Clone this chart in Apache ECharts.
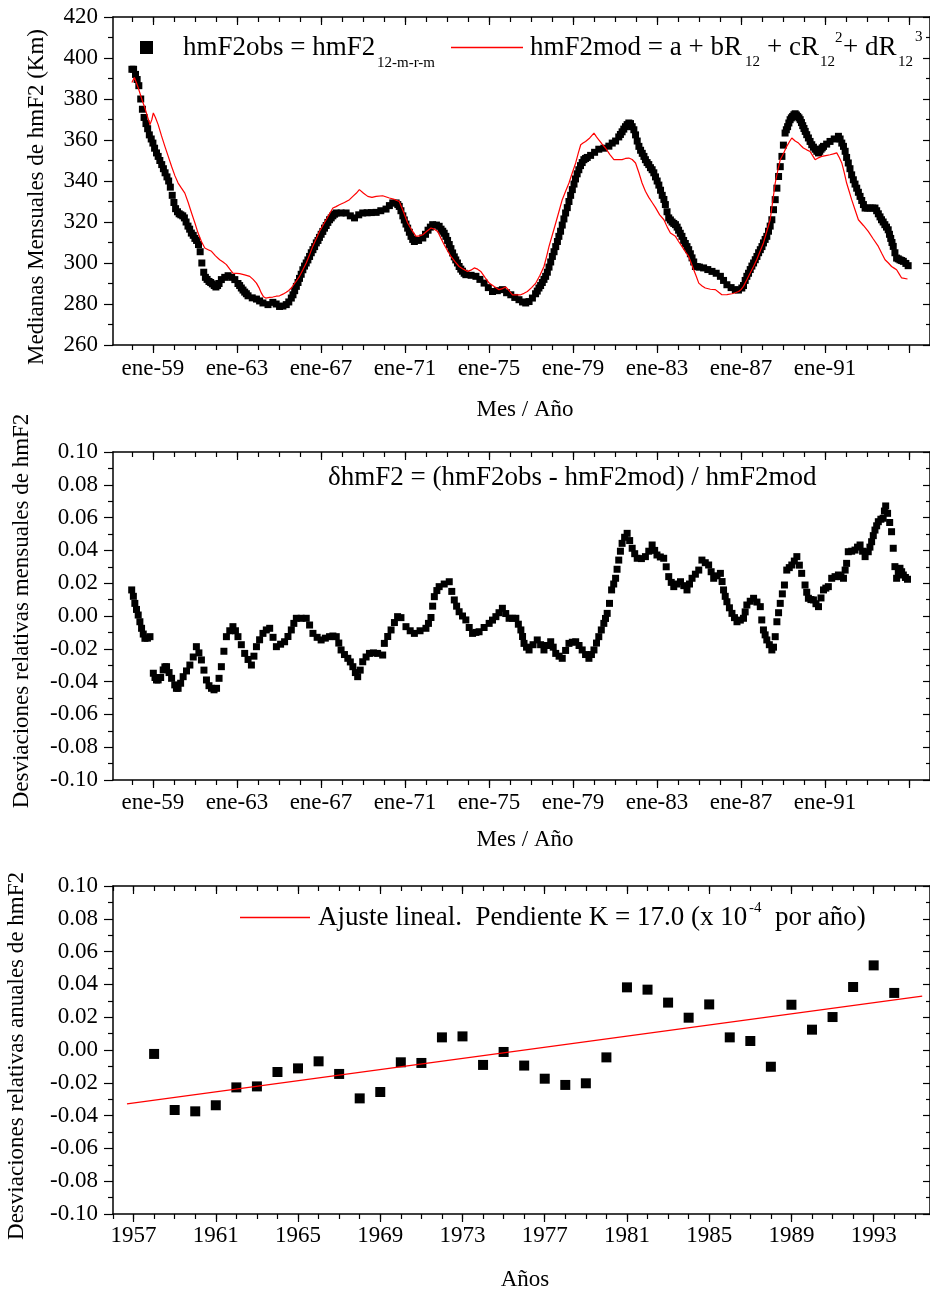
<!DOCTYPE html>
<html><head><meta charset="utf-8">
<script src="https://cdn.jsdelivr.net/npm/echarts@6/dist/echarts.min.js"></script>
<style>html,body{margin:0;padding:0;background:#fff}#c{width:930px;height:1295px}</style>
</head><body><div id="c"></div>
<script>
// ---- Panel 1: monthly medians of hmF2 (Km) [decimal year, value]
const obsHmF2 = [[1958.00,394.5],[1958.08,394.5],[1958.17,392],[1958.25,389.5],[1958.33,386.5],[1958.42,380],[1958.50,375],[1958.58,371],[1958.67,368],[1958.75,365.5],[1958.83,362.5],[1958.92,360.5],[1959.00,358.5],[1959.08,356],[1959.17,353.7],[1959.25,352],[1959.33,350],[1959.42,348],[1959.50,346],[1959.58,344],[1959.67,342],[1959.75,340],[1959.83,337],[1959.92,333],[1960.00,329.5],[1960.08,326.5],[1960.17,325],[1960.25,324],[1960.33,323.5],[1960.42,323],[1960.50,322],[1960.58,320],[1960.67,318],[1960.75,316.5],[1960.83,314.6],[1960.92,313.5],[1961.00,312],[1961.08,311],[1961.17,309],[1961.25,305.5],[1961.33,300],[1961.42,295.5],[1961.50,293],[1961.58,292],[1961.67,291],[1961.75,290.5],[1961.83,289.8],[1961.92,289],[1962.00,288.3],[1962.08,289],[1962.15,290],[1962.26,291.9],[1962.42,293],[1962.58,293.8],[1962.75,293],[1962.90,291.9],[1963.05,290],[1963.13,289],[1963.21,287.8],[1963.29,286.8],[1963.37,285.8],[1963.45,285],[1963.53,284],[1963.73,283],[1963.93,282.4],[1964.08,281.5],[1964.24,280.5],[1964.48,279.7],[1964.71,280.8],[1964.87,280],[1965.03,278.8],[1965.19,279],[1965.35,279.7],[1965.47,281],[1965.59,282.9],[1965.67,284.5],[1965.75,286.5],[1965.83,288.6],[1965.91,290.5],[1965.98,292.5],[1966.06,294.5],[1966.14,296.7],[1966.22,298.5],[1966.30,300],[1966.38,301.5],[1966.46,303.2],[1966.54,305],[1966.62,306.5],[1966.70,308],[1966.78,309.8],[1966.86,311],[1966.93,312.5],[1967.01,314],[1967.09,315.4],[1967.17,317],[1967.25,318.3],[1967.33,319.8],[1967.41,321.1],[1967.49,322],[1967.57,323],[1967.65,323.8],[1967.73,324.4],[1967.96,324.4],[1968.20,324.4],[1968.40,323],[1968.60,322],[1968.80,323.5],[1968.99,324.4],[1969.20,324.5],[1969.40,324.6],[1969.63,324.7],[1969.85,325.5],[1970.10,326.3],[1970.26,328],[1970.42,329.3],[1970.58,329.3],[1970.66,328.5],[1970.73,327.6],[1970.81,325.5],[1970.90,323],[1970.97,321],[1971.05,319],[1971.13,317],[1971.21,315],[1971.29,313],[1971.37,311.5],[1971.45,310.5],[1971.65,311],[1971.85,312.2],[1971.98,314],[1972.10,316],[1972.21,317.5],[1972.32,318.7],[1972.50,318.5],[1972.63,317.9],[1972.72,316.5],[1972.80,315.5],[1972.87,314.5],[1972.95,313],[1973.03,311],[1973.11,309],[1973.19,307],[1973.27,304.9],[1973.35,303],[1973.42,301.5],[1973.50,300],[1973.58,298.3],[1973.66,297],[1973.74,296],[1973.82,295],[1973.90,294.3],[1974.15,294],[1974.38,293.5],[1974.57,292],[1974.77,290.2],[1974.97,288],[1975.17,286.1],[1975.40,286.5],[1975.64,287],[1975.84,285.5],[1976.04,284.5],[1976.23,283.2],[1976.43,282.1],[1976.60,281],[1976.75,280.5],[1976.91,281.2],[1977.07,282.9],[1977.22,285],[1977.30,286.3],[1977.38,287.8],[1977.46,289],[1977.54,290.5],[1977.62,292],[1977.70,293.5],[1977.78,295.5],[1977.86,298],[1977.94,300.5],[1978.02,303.2],[1978.10,305.5],[1978.18,308],[1978.26,310.5],[1978.33,313],[1978.41,315.5],[1978.49,318.5],[1978.57,321.5],[1978.65,324.4],[1978.73,327],[1978.81,330],[1978.89,333],[1978.97,335.8],[1979.05,338.5],[1979.12,341],[1979.20,343.5],[1979.28,345.5],[1979.36,347.5],[1979.44,349],[1979.52,350.4],[1979.60,351],[1979.68,351.5],[1979.84,352.5],[1980.03,354],[1980.23,355.5],[1980.47,356],[1980.71,357],[1980.87,358.5],[1981.03,359.5],[1981.18,361.5],[1981.26,362.7],[1981.34,364],[1981.42,365.3],[1981.50,366.5],[1981.58,367.5],[1981.66,368.3],[1981.74,368],[1981.82,366.5],[1981.90,365],[1981.98,362.5],[1982.06,359.5],[1982.14,356.9],[1982.22,355],[1982.30,353.5],[1982.38,352],[1982.45,350.4],[1982.53,349],[1982.61,348],[1982.69,346.5],[1982.77,345.5],[1982.85,344],[1982.93,342],[1983.01,340],[1983.09,338],[1983.17,335.5],[1983.25,333],[1983.33,331],[1983.40,328.5],[1983.48,325],[1983.56,322],[1983.64,321],[1983.72,320],[1983.80,319.3],[1983.88,318.7],[1983.96,317.5],[1984.03,316],[1984.11,314.5],[1984.19,313],[1984.27,311],[1984.35,309.5],[1984.43,308],[1984.51,306.5],[1984.59,304.5],[1984.67,302.5],[1984.75,300.5],[1984.83,298.3],[1984.92,298.2],[1985.02,298],[1985.22,297.6],[1985.42,296.8],[1985.62,295.9],[1985.82,295],[1986.02,293.5],[1986.17,291.5],[1986.33,289.4],[1986.53,288],[1986.73,287],[1986.88,286.8],[1987.04,287.8],[1987.12,289],[1987.20,291.5],[1987.28,293.5],[1987.36,295],[1987.44,296.8],[1987.52,298.5],[1987.60,300],[1987.68,301.6],[1987.76,303.2],[1987.84,305],[1987.92,306.5],[1988.00,308],[1988.07,309.8],[1988.15,311.5],[1988.23,313],[1988.31,315.5],[1988.39,318],[1988.47,321.1],[1988.55,326],[1988.63,330.9],[1988.71,336.5],[1988.79,342.2],[1988.87,347],[1988.95,352],[1989.02,357.5],[1989.10,363.4],[1989.16,365],[1989.22,366.5],[1989.28,368.3],[1989.34,369.9],[1989.40,370.8],[1989.46,371.5],[1989.52,372.3],[1989.58,372.8],[1989.64,372.2],[1989.70,371.5],[1989.76,370.8],[1989.82,369.9],[1989.88,368.5],[1989.94,367],[1990.00,365.6],[1990.06,364.2],[1990.13,362.6],[1990.21,361],[1990.29,359.3],[1990.37,357.7],[1990.45,356.5],[1990.53,355.5],[1990.61,354.5],[1990.69,353.7],[1990.75,354.5],[1990.81,355.5],[1990.87,356.2],[1990.93,356.9],[1991.08,358],[1991.24,359.3],[1991.44,360.5],[1991.64,361.8],[1991.72,360.5],[1991.80,358.5],[1991.88,356.9],[1991.96,354.5],[1992.03,351.5],[1992.11,348.8],[1992.19,346],[1992.27,343],[1992.35,340.6],[1992.43,338.5],[1992.51,336.5],[1992.59,334.5],[1992.67,332.5],[1992.75,330.5],[1992.83,328.5],[1992.91,326.8],[1993.03,326.8],[1993.15,326.8],[1993.27,326.8],[1993.38,326.8],[1993.46,325.5],[1993.54,324],[1993.62,322.5],[1993.69,321.1],[1993.77,320],[1993.85,318.7],[1993.93,317.5],[1994.01,316.2],[1994.07,314],[1994.13,312],[1994.19,310],[1994.25,308.1],[1994.33,305],[1994.41,302.4],[1994.49,302],[1994.57,301.5],[1994.65,301.2],[1994.73,300.8],[1994.85,299.8],[1994.96,298.7]];

const modHmF2 = [[1958.00,388],[1958.12,390.5],[1958.19,389.8],[1958.30,385.5],[1958.38,382.9],[1958.50,379],[1958.62,375.6],[1958.74,371.5],[1958.86,367.5],[1958.95,370],[1959.02,373.2],[1959.12,371],[1959.25,367.5],[1959.41,362],[1959.57,356.9],[1959.73,352],[1959.89,347.1],[1960.05,342.5],[1960.20,339],[1960.36,336.5],[1960.52,334.1],[1960.68,329.5],[1960.84,324.4],[1961.00,319.5],[1961.15,314.6],[1961.31,310.5],[1961.47,307.3],[1961.63,306.5],[1961.79,305.7],[1961.98,303.5],[1962.18,301.6],[1962.34,300.5],[1962.50,299.2],[1962.66,297],[1962.81,295.1],[1963.13,294.8],[1963.37,294.2],[1963.61,293.5],[1963.77,292],[1963.93,290.2],[1964.05,288],[1964.16,285.4],[1964.27,283.5],[1964.37,282.9],[1964.55,283.2],[1964.71,283.4],[1964.87,283.8],[1965.03,284],[1965.19,284.8],[1965.35,285.7],[1965.47,286.6],[1965.59,287.8],[1965.78,290.5],[1965.98,293.5],[1966.14,296.7],[1966.30,300],[1966.46,304],[1966.61,308.1],[1966.77,311.7],[1966.93,315.4],[1967.09,318.3],[1967.25,321.1],[1967.41,324],[1967.57,326.8],[1967.72,327.5],[1967.88,328.4],[1968.12,329.5],[1968.36,330.9],[1968.52,332.5],[1968.68,334],[1968.83,335.8],[1969.03,334],[1969.23,332.5],[1969.43,332],[1969.63,332.5],[1969.94,332.8],[1970.26,331.7],[1970.50,331],[1970.73,330],[1970.93,325],[1971.13,319.5],[1971.33,316],[1971.53,313],[1971.69,313.2],[1971.85,313.8],[1972.04,315.5],[1972.24,317.1],[1972.40,316.5],[1972.56,315.4],[1972.72,312],[1972.87,308.9],[1973.03,306],[1973.19,303.2],[1973.39,300.5],[1973.58,298.3],[1973.78,297],[1973.98,295.9],[1974.14,296.5],[1974.30,297.6],[1974.46,297],[1974.61,295.9],[1974.81,293],[1975.01,290.2],[1975.25,288.5],[1975.48,287],[1975.64,287.5],[1975.80,288.3],[1975.96,286.5],[1976.12,284.5],[1976.32,284.5],[1976.51,284.5],[1976.67,285.2],[1976.83,286.1],[1977.03,288],[1977.23,290.2],[1977.43,294],[1977.62,298.3],[1977.74,303],[1977.86,308.1],[1978.02,313.8],[1978.18,319.5],[1978.33,325],[1978.49,330.9],[1978.65,335],[1978.81,339],[1978.97,344],[1979.13,348.8],[1979.25,353.5],[1979.37,357.7],[1979.48,358.5],[1979.60,359.3],[1979.80,361],[1980.00,363.4],[1980.12,361.5],[1980.23,360.1],[1980.39,358],[1980.55,356.1],[1980.75,353],[1980.95,350.4],[1981.15,350.4],[1981.34,350.4],[1981.50,351],[1981.66,351.2],[1981.82,350.5],[1981.98,348.8],[1982.14,344],[1982.29,339],[1982.45,335],[1982.61,332],[1982.77,329.5],[1982.93,327],[1983.13,323.5],[1983.33,321.1],[1983.49,317.5],[1983.64,314.6],[1983.88,313],[1984.03,310.5],[1984.19,308.1],[1984.35,305.5],[1984.51,303.2],[1984.63,300],[1984.75,296.7],[1984.87,293.5],[1984.99,290.2],[1985.15,288.8],[1985.30,287.8],[1985.54,287.2],[1985.78,287],[1985.94,285.7],[1986.09,284.5],[1986.33,284.6],[1986.57,285],[1986.73,285.5],[1986.89,286.1],[1987.00,287],[1987.12,288.6],[1987.28,291.8],[1987.44,295.1],[1987.60,298.3],[1987.75,301.6],[1987.91,305.7],[1988.07,309.8],[1988.23,315.5],[1988.39,321.1],[1988.51,330],[1988.63,339],[1988.75,345],[1988.87,350.4],[1989.03,353.5],[1989.18,356.9],[1989.30,359],[1989.42,361],[1989.58,359.5],[1989.74,358.5],[1989.86,357.2],[1989.97,356.1],[1990.13,355.2],[1990.29,354.4],[1990.41,352.4],[1990.53,350.4],[1990.69,351.3],[1990.84,352],[1991.04,352.4],[1991.24,352.8],[1991.40,353.2],[1991.56,353.7],[1991.68,351.5],[1991.80,348.8],[1991.92,344],[1992.03,339],[1992.15,335],[1992.27,330.9],[1992.43,326],[1992.59,321.1],[1992.83,318.3],[1993.06,315.4],[1993.30,311.7],[1993.54,308.1],[1993.70,304.8],[1993.86,301.6],[1994.02,300],[1994.17,298.3],[1994.29,297.5],[1994.41,296.7],[1994.53,294.7],[1994.65,292.7],[1994.93,292.2]];

// ---- Panel 2: monthly relative deviations
const devMonthly = [[1957.99,0.0159],[1958.07,0.0120],[1958.14,0.0077],[1958.22,0.0040],[1958.30,0.0006],[1958.38,-0.0035],[1958.46,-0.0075],[1958.54,-0.0110],[1958.62,-0.0136],[1958.74,-0.0135],[1958.86,-0.0126],[1959.02,-0.0349],[1959.10,-0.0375],[1959.17,-0.0390],[1959.25,-0.0390],[1959.37,-0.0375],[1959.49,-0.0329],[1959.57,-0.0310],[1959.65,-0.0309],[1959.77,-0.0345],[1959.89,-0.0380],[1960.04,-0.0420],[1960.12,-0.0441],[1960.20,-0.0441],[1960.32,-0.0410],[1960.44,-0.0370],[1960.60,-0.0335],[1960.76,-0.0299],[1960.92,-0.0250],[1961.07,-0.0187],[1961.19,-0.0225],[1961.31,-0.0268],[1961.43,-0.0330],[1961.55,-0.0390],[1961.67,-0.0425],[1961.79,-0.0441],[1961.91,-0.0450],[1962.03,-0.0441],[1962.15,-0.0380],[1962.26,-0.0309],[1962.38,-0.0215],[1962.50,-0.0126],[1962.66,-0.0090],[1962.81,-0.0065],[1962.93,-0.0090],[1963.05,-0.0126],[1963.21,-0.0175],[1963.37,-0.0228],[1963.53,-0.0265],[1963.69,-0.0299],[1963.81,-0.0245],[1963.93,-0.0187],[1964.08,-0.0145],[1964.24,-0.0106],[1964.40,-0.0085],[1964.56,-0.0075],[1964.72,-0.0130],[1964.88,-0.0187],[1965.08,-0.0172],[1965.27,-0.0157],[1965.43,-0.0125],[1965.59,-0.0085],[1965.71,-0.0045],[1965.83,-0.0014],[1966.06,-0.0014],[1966.30,-0.0014],[1966.46,-0.0055],[1966.62,-0.0106],[1966.82,-0.0130],[1967.01,-0.0146],[1967.21,-0.0135],[1967.41,-0.0126],[1967.57,-0.0122],[1967.73,-0.0126],[1967.85,-0.0165],[1967.96,-0.0207],[1968.12,-0.0235],[1968.28,-0.0258],[1968.40,-0.0280],[1968.52,-0.0309],[1968.64,-0.0345],[1968.75,-0.0370],[1968.87,-0.0330],[1968.99,-0.0279],[1969.15,-0.0250],[1969.31,-0.0228],[1969.50,-0.0225],[1969.70,-0.0228],[1969.94,-0.0238],[1970.02,-0.0167],[1970.18,-0.0125],[1970.34,-0.0085],[1970.50,-0.0040],[1970.65,-0.0004],[1970.81,-0.0010],[1971.05,-0.0065],[1971.25,-0.0090],[1971.45,-0.0106],[1971.72,-0.0090],[1972.00,-0.0075],[1972.12,-0.0045],[1972.24,-0.0009],[1972.32,0.0060],[1972.40,0.0118],[1972.52,0.0155],[1972.63,0.0179],[1972.87,0.0195],[1973.11,0.0209],[1973.23,0.0150],[1973.35,0.0098],[1973.46,0.0060],[1973.58,0.0026],[1973.74,0.0000],[1973.90,-0.0024],[1974.06,-0.0070],[1974.22,-0.0106],[1974.38,-0.0100],[1974.53,-0.0096],[1974.77,-0.0070],[1975.01,-0.0045],[1975.17,-0.0025],[1975.33,-0.0004],[1975.48,0.0020],[1975.64,0.0047],[1975.80,0.0015],[1975.96,-0.0014],[1976.12,-0.0014],[1976.28,-0.0014],[1976.40,-0.0050],[1976.52,-0.0085],[1976.60,-0.0125],[1976.67,-0.0167],[1976.79,-0.0190],[1976.91,-0.0207],[1977.10,-0.0175],[1977.30,-0.0146],[1977.46,-0.0175],[1977.62,-0.0207],[1977.78,-0.0180],[1977.94,-0.0157],[1978.06,-0.0190],[1978.18,-0.0228],[1978.34,-0.0245],[1978.49,-0.0258],[1978.65,-0.0210],[1978.81,-0.0167],[1978.97,-0.0160],[1979.13,-0.0157],[1979.29,-0.0180],[1979.44,-0.0207],[1979.60,-0.0235],[1979.76,-0.0258],[1979.88,-0.0235],[1980.00,-0.0207],[1980.12,-0.0165],[1980.23,-0.0126],[1980.35,-0.0085],[1980.47,-0.0045],[1980.55,-0.0015],[1980.63,0.0016],[1980.74,0.0077],[1980.84,0.0159],[1980.94,0.0195],[1981.03,0.0230],[1981.10,0.0285],[1981.18,0.0341],[1981.26,0.0395],[1981.34,0.0443],[1981.46,0.0480],[1981.58,0.0504],[1981.70,0.0460],[1981.82,0.0413],[1981.94,0.0380],[1982.06,0.0352],[1982.26,0.0350],[1982.45,0.0362],[1982.61,0.0395],[1982.77,0.0433],[1982.89,0.0400],[1983.00,0.0372],[1983.16,0.0360],[1983.32,0.0352],[1983.44,0.0300],[1983.56,0.0240],[1983.68,0.0205],[1983.80,0.0179],[1983.96,0.0195],[1984.12,0.0209],[1984.28,0.0185],[1984.43,0.0159],[1984.55,0.0195],[1984.67,0.0230],[1984.83,0.0255],[1984.99,0.0280],[1985.14,0.0341],[1985.30,0.0325],[1985.46,0.0311],[1985.58,0.0270],[1985.70,0.0230],[1985.86,0.0245],[1986.02,0.0260],[1986.10,0.0210],[1986.17,0.0159],[1986.25,0.0120],[1986.33,0.0087],[1986.45,0.0050],[1986.57,0.0016],[1986.69,-0.0010],[1986.81,-0.0035],[1986.97,-0.0025],[1987.12,-0.0014],[1987.20,0.0025],[1987.28,0.0067],[1987.44,0.0090],[1987.60,0.0108],[1987.76,0.0085],[1987.92,0.0057],[1987.99,-0.0024],[1988.07,-0.0085],[1988.15,-0.0115],[1988.23,-0.0146],[1988.35,-0.0175],[1988.47,-0.0207],[1988.55,-0.0190],[1988.63,-0.0126],[1988.71,-0.0035],[1988.79,0.0020],[1988.87,0.0077],[1988.97,0.0135],[1989.07,0.0189],[1989.18,0.0280],[1989.30,0.0295],[1989.42,0.0311],[1989.54,0.0335],[1989.66,0.0362],[1989.78,0.0310],[1989.89,0.0260],[1990.05,0.0189],[1990.13,0.0145],[1990.21,0.0108],[1990.33,0.0100],[1990.45,0.0098],[1990.57,0.0075],[1990.69,0.0057],[1990.81,0.0110],[1990.93,0.0159],[1991.04,0.0170],[1991.16,0.0179],[1991.32,0.0230],[1991.48,0.0240],[1991.64,0.0250],[1991.76,0.0240],[1991.88,0.0230],[1991.96,0.0280],[1992.03,0.0321],[1992.11,0.0392],[1992.27,0.0395],[1992.43,0.0402],[1992.55,0.0420],[1992.67,0.0433],[1992.79,0.0395],[1992.91,0.0362],[1993.06,0.0392],[1993.14,0.0420],[1993.22,0.0453],[1993.30,0.0490],[1993.38,0.0524],[1993.46,0.0550],[1993.54,0.0575],[1993.66,0.0590],[1993.77,0.0596],[1993.83,0.0640],[1993.89,0.0671],[1993.98,0.0626],[1994.08,0.0570],[1994.17,0.0514],[1994.25,0.0413],[1994.33,0.0301],[1994.41,0.0230],[1994.49,0.0265],[1994.57,0.0291],[1994.65,0.0270],[1994.73,0.0250],[1994.83,0.0235],[1994.93,0.0224]];

// ---- Panel 3: annual relative deviations and linear fit end points
const devAnnual = [[1958,-0.0024],[1959,-0.0366],[1960,-0.0374],[1961,-0.0337],[1962,-0.0228],[1963,-0.0222],[1964,-0.0134],[1965,-0.0112],[1966,-0.0069],[1967,-0.0146],[1968,-0.0295],[1969,-0.0256],[1970,-0.0075],[1971,-0.0079],[1972,0.0077],[1973,0.0083],[1974,-0.0091],[1975,-0.0012],[1976,-0.0095],[1977,-0.0175],[1978,-0.0213],[1979,-0.0203],[1980,-0.0045],[1981,0.0382],[1982,0.0368],[1983,0.0289],[1984,0.0197],[1985,0.0278],[1986,0.0077],[1987,0.0055],[1988,-0.0102],[1989,0.0276],[1990,0.0124],[1991,0.0201],[1992,0.0384],[1993,0.0516],[1994,0.0348]];
const linearFit = [[1956.68,-0.0329],[1995.36,0.0329]];

// ---- Tick values
const monthlyMinorTicks = [1958,1959,1960,1961,1962,1963,1964,1965,1966,1967,1968,1969,1970,1971,1972,1973,1974,1975,1976,1977,1978,1979,1980,1981,1982,1983,1984,1985,1986,1987,1988,1989,1990,1991,1992,1993,1994,1995];
const monthlyMajorTicks = [1959,1963,1967,1971,1975,1979,1983,1987,1991,1995];
const monthlyLabels = [1959,1963,1967,1971,1975,1979,1983,1987,1991];
const annualMinorTicks = [1956,1957,1958,1959,1960,1961,1962,1963,1964,1965,1966,1967,1968,1969,1970,1971,1972,1973,1974,1975,1976,1977,1978,1979,1980,1981,1982,1983,1984,1985,1986,1987,1988,1989,1990,1991,1992,1993,1994,1995];
const annualMajorTicks = [1957,1961,1965,1969,1973,1977,1981,1985,1989,1993];
const annualLabels = [1957,1961,1965,1969,1973,1977,1981,1985,1989,1993];

const FONT = '"Liberation Serif", "Times New Roman", serif';
const LBL = 23;
const axLine = {color:'#000', width:1.5};
const tkLine = {color:'#000', width:1.2};

function xSet(g, min, max, minors, majors, labels, fmt, margin) {
  const base = {type:'value', gridIndex:g, min:min, max:max, splitLine:{show:false}, axisPointer:{show:false}};
  return [
    Object.assign({}, base, {position:'bottom', axisLine:{show:true,onZero:false,lineStyle:axLine},
      axisTick:{show:true,customValues:minors,length:5,lineStyle:tkLine}, axisLabel:{show:false}}),
    Object.assign({}, base, {position:'bottom', axisLine:{show:false,onZero:false},
      axisTick:{show:true,customValues:majors,length:8,lineStyle:tkLine},
      axisLabel:{show:true,customValues:labels,formatter:fmt,margin:margin,color:'#000',fontFamily:FONT,fontSize:LBL}}),
    Object.assign({}, base, {position:'top', axisLine:{show:true,onZero:false,lineStyle:axLine},
      axisTick:{show:true,inside:true,customValues:minors,length:5,lineStyle:tkLine}, axisLabel:{show:false}}),
    Object.assign({}, base, {position:'top', axisLine:{show:false,onZero:false},
      axisTick:{show:true,inside:true,customValues:majors,length:8,lineStyle:tkLine}, axisLabel:{show:false}})
  ];
}
function ySet(g, min, max, interval, fmt) {
  return [
    {type:'value', gridIndex:g, min:min, max:max, interval:interval, position:'left',
     axisLine:{show:true,onZero:false,lineStyle:axLine}, axisTick:{show:true,length:9,lineStyle:tkLine},
     minorTick:{show:true,splitNumber:2,length:5,lineStyle:tkLine},
     axisLabel:{show:true,formatter:fmt,margin:15,color:'#000',fontFamily:FONT,fontSize:LBL},
     splitLine:{show:false}, minorSplitLine:{show:false}},
    {type:'value', gridIndex:g, min:min, max:max, interval:interval, position:'right',
     axisLine:{show:true,onZero:false,lineStyle:axLine}, axisTick:{show:true,inside:true,length:7,lineStyle:tkLine},
     minorTick:{show:true,splitNumber:2,length:4,lineStyle:tkLine},
     axisLabel:{show:false}, splitLine:{show:false}, minorSplitLine:{show:false}}
  ];
}
const eneFmt = v => 'ene-' + String(Math.round(v)).slice(2);
const yrFmt = v => String(Math.round(v));
const dFmt = v => (Math.abs(v) < 1e-9 ? 0 : v).toFixed(2);

function txt(t, x, base, size) {
  return {type:'text', x:x, y:base - 0.34*size, z:100,
    style:{text:t, font: size + 'px ' + FONT, fill:'#000', textAlign:'left', textVerticalAlign:'middle', align:'left', verticalAlign:'middle'}};
}
function vtitle(t, cx, cy) {
  return {type:'text', x:cx, y:cy, rotation:Math.PI/2, z:100,
    style:{text:t, font: LBL + 'px ' + FONT, fill:'#000', textAlign:'center', textVerticalAlign:'middle', align:'center', verticalAlign:'middle'}};
}
function htitle(t, cx, cy) {
  return {type:'text', x:cx, y:cy, z:100,
    style:{text:t, font: LBL + 'px ' + FONT, fill:'#000', textAlign:'center', textVerticalAlign:'middle', align:'center', verticalAlign:'middle'}};
}

const chart = echarts.init(document.getElementById('c'), null, {renderer:'canvas'});
const sq = {color:'#000', opacity:1};
chart.setOption({
  animation:false,
  backgroundColor:'#fff',
  grid:[
    {left:113, top:17, width:819, height:328},
    {left:113, top:452, width:819, height:328},
    {left:113, top:886, width:819, height:328}
  ],
  xAxis: [].concat(
    xSet(0, 1957.1, 1996.0, monthlyMinorTicks, monthlyMajorTicks, monthlyLabels, eneFmt, 12),
    xSet(1, 1957.1, 1996.0, monthlyMinorTicks, monthlyMajorTicks, monthlyLabels, eneFmt, 11),
    xSet(2, 1956, 1995.74, annualMinorTicks, annualMajorTicks, annualLabels, yrFmt, 10)
  ),
  yAxis: [].concat(
    ySet(0, 260, 420, 20, v => String(Math.round(v))),
    ySet(1, -0.1, 0.1, 0.02, dFmt),
    ySet(2, -0.1, 0.1, 0.02, dFmt)
  ),
  series:[
    {type:'scatter', xAxisIndex:0, yAxisIndex:0, data:obsHmF2, symbol:'rect', symbolSize:7, itemStyle:sq, z:2, silent:true},
    {type:'line', xAxisIndex:0, yAxisIndex:0, data:modHmF2, showSymbol:false, symbol:'none', lineStyle:{color:'#ff0000', width:1.2}, z:3, silent:true},
    {type:'scatter', xAxisIndex:4, yAxisIndex:2, data:devMonthly, symbol:'rect', symbolSize:7, itemStyle:sq, z:2, silent:true},
    {type:'scatter', xAxisIndex:8, yAxisIndex:4, data:devAnnual, symbol:'rect', symbolSize:10, itemStyle:sq, z:2, silent:true},
    {type:'line', xAxisIndex:8, yAxisIndex:4, data:linearFit, showSymbol:false, symbol:'none', lineStyle:{color:'#ff0000', width:1.2}, z:3, silent:true}
  ],
  graphic:[
    // panel 1 legend
    {type:'rect', shape:{x:140, y:41, width:13, height:13}, style:{fill:'#000'}, z:100},
    txt('hmF2obs = hmF2', 183, 57, 27),
    txt('12-m-r-m', 377, 68, 15),
    {type:'line', shape:{x1:451, y1:47.5, x2:523, y2:47.5}, style:{stroke:'#ff0000', lineWidth:1.3}, z:100},
    txt('hmF2mod = a + bR', 530, 57, 27),
    txt('12', 745, 67, 15),
    txt('+ cR', 767, 57, 27),
    txt('12', 820, 67, 15),
    txt('2', 835, 43, 15),
    txt('+ dR', 843, 57, 27),
    txt('12', 898, 67, 15),
    txt('3', 915, 42, 15),
    // panel 2 annotation
    txt('\u03b4hmF2 = (hmF2obs - hmF2mod) / hmF2mod', 328, 487, 27),
    // panel 3 legend
    {type:'line', shape:{x1:240, y1:917.5, x2:310, y2:917.5}, style:{stroke:'#ff0000', lineWidth:1.3}, z:100},
    txt('Ajuste lineal.  Pendiente K = 17.0 (x 10', 318, 927.5, 27),
    txt('-4', 749, 913, 15),
    txt('por a\u00f1o)', 775, 927.5, 27),
    // axis titles
    vtitle('Medianas Mensuales de hmF2 (Km)', 37, 197),
    vtitle('Desviaciones relativas mensuales de hmF2', 22, 611),
    vtitle('Desviaciones relativas anuales de hmF2', 17, 1056),
    htitle('Mes / A\u00f1o', 525, 410),
    htitle('Mes / A\u00f1o', 525, 840),
    htitle('A\u00f1os', 525, 1280)
  ]
});
</script>
</body></html>
